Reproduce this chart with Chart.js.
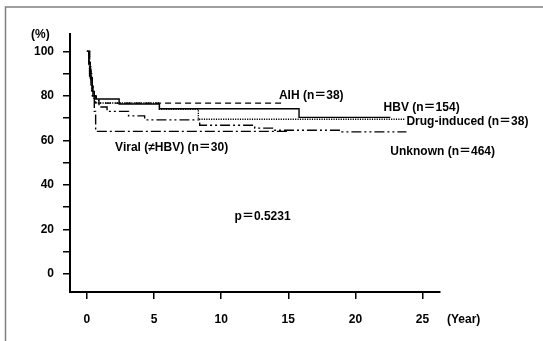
<!DOCTYPE html>
<html>
<head>
<meta charset="utf-8">
<script src="https://cdn.jsdelivr.net/npm/chart.js@4.4.0/dist/chart.umd.min.js"></script>
<style>
  html, body { margin: 0; padding: 0; background: #fff; }
  #wrap { width: 543px; height: 341px; }
</style>
</head>
<body>
<div id="wrap"><canvas id="myChart" width="543" height="341"></canvas></div>
<script>
// Kaplan-Meier style curves (year, %)
const hbvYears = [0, 0.15, 0.25, 0.4, 0.55, 0.7, 2.4, 5.4, 15.8, 22.6];
const hbvSurv = [100, 95, 88, 82, 80, 78.6, 76.3, 74.2, 70.3, 70.3];

const aihYears = [0, 0.15, 0.3, 0.45, 0.6, 0.9, 14.7];
const aihSurv = [100, 92, 85, 80, 78, 76.7, 76.7];

const drugYears = [0, 0.2, 0.35, 0.5, 0.6, 5.4, 8.3, 23.7];
const drugSurv = [100, 90, 82, 79, 76.8, 74.0, 69.5, 69.5];

const viralYears = [0, 0.2, 0.4, 0.55, 0.65, 15.0];
const viralSurv = [100, 88, 80, 73, 64.0, 64.0];

const unknownYears = [0, 0.15, 0.3, 0.45, 0.6, 0.9, 1.5, 3.1, 4.3, 8.4, 12.5, 14.0, 19.0, 23.8];
const unknownSurv = [100, 93, 85, 80, 77, 75, 73, 71, 69.2, 66.8, 65.5, 64.5, 63.8, 63.8];

const xTicks = [0, 5, 10, 15, 20, 25];
const yTicks = [0, 10, 20, 30, 40, 50, 60, 70, 80, 90, 100];
const yLabelled = [0, 20, 40, 60, 80, 100];

const seriesLabels = ['AIH (n＝38)', 'HBV (n＝154)', 'Drug-induced (n＝38)', 'Viral (≠HBV) (n＝30)', 'Unknown (n＝464)'];
const pValueText = 'p＝0.5231';

const FONT = '"Liberation Sans", "Noto Sans CJK JP", sans-serif';

function toPoints(xs, ys) {
  return xs.map((x, i) => ({ x: x, y: ys[i] }));
}

function curve(label, xs, ys, dash) {
  return {
    label: label,
    data: toPoints(xs, ys),
    borderColor: '#000',
    borderWidth: 1.4,
    borderDash: dash,
    stepped: true,
    pointRadius: 0,
    fill: false
  };
}

// where each text sits, in data units
const textSpots = [
  { text: seriesLabels[0], x: 14.3, y: 80.0 },
  { text: seriesLabels[1], x: 22.1, y: 74.6 },
  { text: seriesLabels[2], x: 23.8, y: 68.2 },
  { text: seriesLabels[3], x: 2.1, y: 56.6 },
  { text: seriesLabels[4], x: 22.6, y: 54.9 },
  { text: pValueText, x: 11.0, y: 25.8 }
];

const extraText = {
  id: 'extraText',
  afterDraw(chart) {
    const ctx = chart.ctx;
    const xs = chart.scales.x;
    const ys = chart.scales.y;
    ctx.save();

    // frame
    ctx.strokeStyle = '#808080';
    ctx.lineWidth = 1.5;
    ctx.beginPath();
    ctx.moveTo(5.5, 341);
    ctx.lineTo(5.5, 7);
    ctx.lineTo(543, 7);
    ctx.stroke();

    ctx.fillStyle = '#000';
    ctx.font = 'bold 12px ' + FONT;
    ctx.textBaseline = 'middle';
    ctx.textAlign = 'left';
    textSpots.forEach(t => {
      ctx.fillText(t.text, xs.getPixelForValue(t.x), ys.getPixelForValue(t.y));
    });

    ctx.fillText('(%)', 31, 35);
    ctx.fillText('(Year)', 447, 320);
    ctx.restore();
  }
};

const myChartElement = document.getElementById('myChart');

let myChart = new Chart(myChartElement, {
  type: 'line',
  data: {
    datasets: [
      curve('AIH', aihYears, aihSurv, [6, 4]),
      curve('HBV', hbvYears, hbvSurv, []),
      curve('Drug-induced', drugYears, drugSurv, [1.2, 1.2]),
      curve('Viral', viralYears, viralSurv, [10, 3, 2, 3]),
      curve('Unknown', unknownYears, unknownSurv, [10, 3, 2, 3, 2, 3])
    ]
  },
  options: {
    responsive: false,
    animation: false,
    layout: { padding: { top: 34, right: 103, left: 0, bottom: 0 } },
    plugins: {
      legend: { display: false },
      tooltip: { enabled: false }
    },
    scales: {
      x: {
        type: 'linear',
        min: -1.26,
        max: 26.3,
        afterBuildTicks: scale => { scale.ticks = xTicks.map(v => ({ value: v })); },
        afterFit: scale => { scale.height = 49; },
        ticks: {
          color: '#000',
          font: { family: FONT, size: 12, weight: 'bold' },
          padding: 13,
          maxRotation: 0
        },
        grid: {
          drawOnChartArea: false,
          drawTicks: true,
          tickLength: 7,
          color: '#000',
          lineWidth: 1.5
        },
        border: { display: true, color: '#000', width: 2 }
      },
      y: {
        min: -8.2,
        max: 107.8,
        afterBuildTicks: scale => { scale.ticks = yTicks.map(v => ({ value: v })); },
        afterFit: scale => { scale.width = 70; },
        ticks: {
          color: '#000',
          font: { family: FONT, size: 12, weight: 'bold' },
          padding: 9,
          callback: v => (yLabelled.includes(v) ? v : '')
        },
        grid: {
          drawOnChartArea: false,
          drawTicks: true,
          tickLength: 7,
          color: '#000',
          lineWidth: 1.5
        },
        border: { display: true, color: '#000', width: 2 }
      }
    }
  },
  plugins: [extraText]
});
</script>
</body>
</html>
